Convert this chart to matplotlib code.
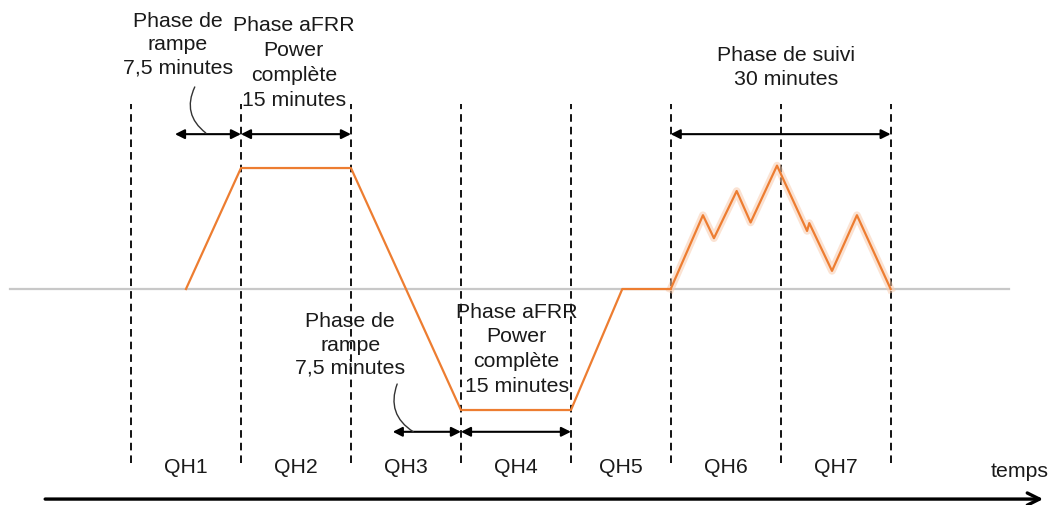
import matplotlib.pyplot as plt

plt.rcParams['font.family'] = ['Liberation Sans', 'DejaVu Sans']

# time axis in minutes (schematic), power in normalised units
qh_bounds = [0, 15, 30, 45, 60, 73.6, 88.6, 103.6]
qh_labels = ["QH1", "QH2", "QH3", "QH4", "QH5", "QH6", "QH7"]

# activation profile: ramp, full aFRR, ramp down, full aFRR (negative), back to 0
profile_t = [7.5, 15, 30, 45, 60, 67, 73.6]
profile_p = [0, 1, 1, -1, -1, 0, 0]

# follow-up phase (noisy tracking)
suivi_t = [73.6, 78.0, 79.5, 82.6, 84.5, 88.1, 92.2, 92.5, 95.6, 99.0, 103.6]
suivi_p = [0, 0.61, 0.42, 0.81, 0.55, 1.02, 0.48, 0.545, 0.15, 0.61, 0]

baseline_span = (-16.5, 119.8)

ORANGE = '#ed7d31'
TXT = '#1a1a1a'
FS = 15.3

fig = plt.figure(figsize=(10.52, 5.06), dpi=100)
ax = fig.add_axes([0, 0, 1, 1])
ax.set_xlim(-17.86, 125.6)
ax.set_ylim(-1.785, 2.397)
ax.axis('off')

# zero line
ax.plot(baseline_span, [0, 0], color='#c8c8c8', lw=1.6, zorder=1)

# quarter-hour separators
ax.vlines(qh_bounds, -1.44, 1.53, colors='black', lw=1.3,
          linestyles=(0, (4.2, 2.8)), zorder=2)

# power profile
ax.plot(profile_t, profile_p, color=ORANGE, lw=1.6, zorder=3)
ax.plot(suivi_t, suivi_p, color='#f8cbad', lw=5.5, alpha=0.55,
        solid_joinstyle='round', zorder=2)
ax.plot(suivi_t, suivi_p, color=ORANGE, lw=1.6, zorder=3)

# QH labels
for i, lab in enumerate(qh_labels):
    xc = (qh_bounds[i] + qh_bounds[i + 1]) / 2
    ax.text(xc, -1.47, lab, ha='center', va='center', fontsize=FS, color=TXT)
ax.text(121.2, -1.50, "temps", ha='center', va='center', fontsize=FS, color=TXT)

# time arrow
ax.annotate("", xy=(124.4, -1.736), xytext=(-11.7, -1.736),
            arrowprops=dict(arrowstyle='->', lw=2.4, color='black',
                            mutation_scale=22, shrinkA=0, shrinkB=0))


def span_arrow(x0, x1, y):
    ax.annotate("", xy=(x1, y), xytext=(x0, y),
                arrowprops=dict(arrowstyle='<|-|>', lw=1.5, color='black',
                                mutation_scale=14, shrinkA=0, shrinkB=0))


def leader(top, bottom):
    ax.annotate("", xy=bottom, xytext=top,
                arrowprops=dict(arrowstyle='-', lw=1.0, color='#333333',
                                connectionstyle='arc3,rad=0.4',
                                shrinkA=0, shrinkB=0))


# upper phase annotations
span_arrow(6.0, 15, 1.28)
span_arrow(15, 30, 1.28)
leader((8.7, 1.67), (10.2, 1.29))
ax.text(6.4, 2.03, "Phase de\nrampe\n7,5 minutes", ha='center', va='center',
        fontsize=FS, color=TXT, linespacing=1.28)
ax.text(22.2, 1.876, "Phase aFRR\nPower\ncomplète\n15 minutes", ha='center',
        va='center', fontsize=FS, color=TXT, linespacing=1.42)

# lower phase annotations
span_arrow(35.7, 45, -1.18)
span_arrow(45, 60, -1.18)
leader((36.3, -0.785), (38.5, -1.18))
ax.text(29.9, -0.455, "Phase de\nrampe\n7,5 minutes", ha='center', va='center',
        fontsize=FS, color=TXT, linespacing=1.28)
ax.text(52.6, -0.49, "Phase aFRR\nPower\ncomplète\n15 minutes", ha='center',
        va='center', fontsize=FS, color=TXT, linespacing=1.38)

# follow-up phase
span_arrow(73.6, 103.6, 1.28)
ax.text(89.3, 1.84, "Phase de suivi\n30 minutes", ha='center', va='center',
        fontsize=FS, color=TXT, linespacing=1.3)

fig.savefig("out.png", dpi=100)
